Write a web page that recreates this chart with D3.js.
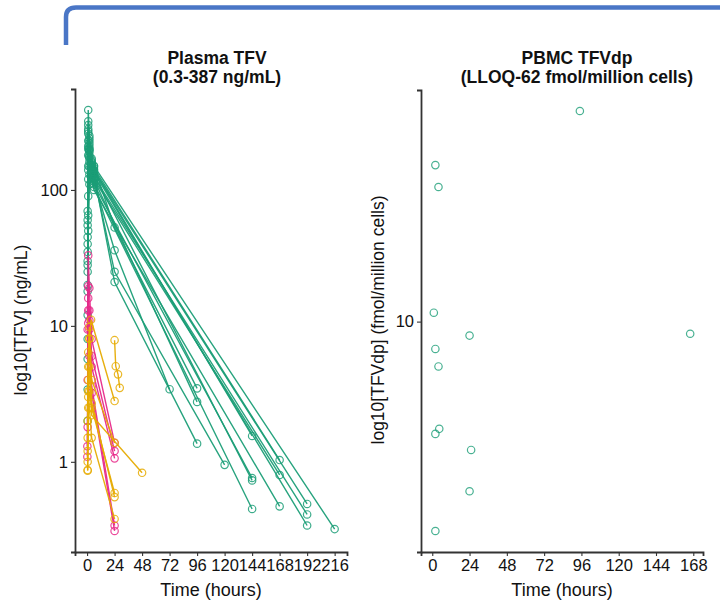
<!DOCTYPE html>
<html>
<head>
<meta charset="utf-8">
<script src="https://cdn.jsdelivr.net/npm/d3@7/dist/d3.min.js"></script>
<style>
  html, body { margin: 0; padding: 0; background: #fff; }
  svg { display: block; }
  text { font-family: "Liberation Sans", Arial, Helvetica, sans-serif; fill: #111; }
</style>
</head>
<body>
<svg id="chart" width="720" height="605"></svg>
<script>
// ---------------- DATA ----------------
// Plasma TFV: one entry per subject (group, sampling times in hours, concentration ng/mL)
const plasmaGroup = [
  "A","A","A","A","A","A","A","A","A","A","A","A","A","A","A","A",
  "B","B","B","B","B",
  "C","C","C","C","C","C","C"
];
const plasmaTimes = [
  [0.5,1,2,4,6,24,72],
  [0.5,1,2,4,6,24,96],
  [0.5,1,2,4,6,96],
  [0.5,1,2,4,6,24,96],
  [0.5,1,2,4,6,24,120],
  [0.5,1,2,4,6,144],
  [0.5,1,2,4,6,144],
  [0.5,1,2,4,6,144],
  [0.5,1,2,4,6,144],
  [0.5,1,2,4,6,168],
  [0.5,1,2,4,6,168],
  [0.5,1,2,4,6,168],
  [0.5,1,2,4,6,192],
  [0.5,1,2,4,6,192],
  [0.5,1,2,4,6,192],
  [0.5,1,2,4,6,216],
  [0.5,1,2,4,24],
  [0.5,1,2,4,24],
  [0.5,1,2,4,24],
  [0.25,1,2,4,24],
  [0.25,1,2,4,24],
  [0.5,1,2,3.5,24],
  [24,25,27,28.5],
  [0.5,1,2,4,48],
  [0.5,1,2,4,24],
  [0.5,1,2,4,24],
  [0.5,1,2,4,24],
  [0.5,1,2,4,24]
];
const plasmaConc = [
  [25,210,160,130,115,36,3.42],
  [60,387,250,170,150,53,3.47],
  [12,150,200,140,120,2.76],
  [5.7,90,180,150,130,21,1.36],
  [40,280,220,145,125,25,0.95],
  [20,120,240,160,140,1.55],
  [3.4,65,130,135,110,0.76],
  [45,300,190,150,130,0.73],
  [2.0,50,110,125,105,0.45],
  [30,260,210,165,145,1.03],
  [55,230,170,140,120,0.80],
  [18,200,150,120,100,0.47],
  [70,320,230,155,140,0.49],
  [28,180,175,135,125,0.41],
  [8,140,195,150,135,0.34],
  [35,270,200,160,150,0.32],
  [9.4,33,19,8,1.38],
  [1.8,16,13,6,1.2],
  [4,19.6,11,5,1.06],
  [1.09,10.5,6,3.6,0.34],
  [1.3,13,9.4,3.2,0.31],
  [1.5,4,8,11.1,2.8],
  [7.85,5.05,4.4,3.5],
  [1,3,5,2.2,0.83],
  [2,6.4,9.8,4,1.38],
  [0.86,2.5,3.3,2.5,0.59],
  [1.2,5,8.1,2.7,0.55],
  [0.87,3.3,2.5,1.5,0.38]
];
const groupNames  = ["A","B","C"];
const groupColors = ["#1B9E77","#E7298A","#E6AB02"];

// PBMC TFVdp (fmol/million cells)
const pbmcTimes = [95,2,4,1,24,166,2,4,4.5,2,25,24,2];
const pbmcConc  = [62,38.8,32.1,10.8,8.86,9.0,7.89,6.78,3.95,3.78,3.29,2.30,1.63];

// Axis ticks
const plasmaXTicks = [0,24,48,72,96,120,144,168,192,216];
const plasmaYTicks = [1,10,100];
const pbmcXTicks   = [0,24,48,72,96,120,144,168];
const pbmcYTicks   = [10];

// Titles
const plasmaTitle = ["Plasma TFV","(0.3-387 ng/mL)"];
const pbmcTitle   = ["PBMC TFVdp","(LLOQ-62 fmol/million cells)"];
const plasmaYLabel = "log10[TFV] (ng/mL)";
const pbmcYLabel   = "log10[TFVdp] (fmol/million cells)";
const xLabel = "Time (hours)";

// ---------------- DRAW ----------------
const svg = d3.select("#chart");
const color = d3.scaleOrdinal().domain(groupNames).range(groupColors);

// blue bracket at top
svg.append("path")
  .attr("d", "M66,45 L66,17 Q66,7.5 76,7.5 L722,7.5")
  .attr("fill", "none")
  .attr("stroke", "#4A76C6")
  .attr("stroke-width", 4.5);

function logExpand(vals, f) {
  const lo = Math.log10(d3.min(vals)), hi = Math.log10(d3.max(vals));
  const e = (hi - lo) * f;
  return [Math.pow(10, lo - e), Math.pow(10, hi + e)];
}
function linExpand(vals, f) {
  const lo = d3.min(vals), hi = d3.max(vals);
  const e = (hi - lo) * f;
  return [lo - e, hi + e];
}

function styleAxis(g) {
  g.selectAll(".domain").attr("stroke", "#333").attr("stroke-width", 1.8);
  g.selectAll(".tick line").attr("stroke", "#333").attr("stroke-width", 1.1);
  g.selectAll(".tick text").attr("font-size", 16.5).attr("fill", "#111")
    .style("font-family", "'Liberation Sans', Arial, sans-serif");
}

// ---- Left panel ----
const L = {x0: 75, x1: 347, y0: 89, y1: 552};
const allT = plasmaTimes.flat(), allC = plasmaConc.flat();
const xL = d3.scaleLinear().domain(linExpand(allT, 0.05)).range([L.x0, L.x1]);
const yL = d3.scaleLog().domain(logExpand(allC, 0.05)).range([L.y1, L.y0]);

const subjects = plasmaGroup.map((g, i) => ({
  group: g,
  pts: plasmaTimes[i].map((t, j) => ({t: t, c: plasmaConc[i][j]}))
}));
const line = d3.line().x(d => xL(d.t)).y(d => yL(d.c));

const plotL = svg.append("g");
groupNames.forEach(gn => {
  const subs = subjects.filter(s => s.group === gn);
  const gg = plotL.append("g");
  gg.selectAll("path.ln").data(subs).join("path")
    .attr("class", "ln")
    .attr("d", s => line(s.pts))
    .attr("fill", "none")
    .attr("stroke", color(gn))
    .attr("stroke-width", 1.4)
    .attr("stroke-opacity", 0.95);
  gg.selectAll("circle").data(subs.flatMap(s => s.pts)).join("circle")
    .attr("cx", d => xL(d.t))
    .attr("cy", d => yL(d.c))
    .attr("r", 3.7)
    .attr("fill", "none")
    .attr("stroke", color(gn))
    .attr("stroke-width", 1.2)
    .attr("stroke-opacity", 0.85);
});

const axLx = svg.append("g").attr("transform", `translate(0,${L.y1})`)
  .call(d3.axisBottom(xL).tickValues(plasmaXTicks).tickSize(4).tickPadding(3).tickFormat(d3.format("d")));
styleAxis(axLx);
const axLy = svg.append("g").attr("transform", `translate(${L.x0},0)`)
  .call(d3.axisLeft(yL).tickValues(plasmaYTicks).tickSize(4).tickPadding(3).tickFormat(d3.format("d")));
styleAxis(axLy);

svg.append("text").attr("x", 211).attr("y", 596).attr("text-anchor", "middle")
  .attr("font-size", 18).text(xLabel);
svg.append("text").attr("transform", `translate(27,320) rotate(-90)`)
  .attr("text-anchor", "middle").attr("font-size", 17.5).text(plasmaYLabel);
svg.append("text").attr("x", 217).attr("y", 64).attr("text-anchor", "middle")
  .attr("font-size", 17.5).attr("font-weight", "bold").text(plasmaTitle[0]);
svg.append("text").attr("x", 217).attr("y", 83).attr("text-anchor", "middle")
  .attr("font-size", 17.5).attr("font-weight", "bold").text(plasmaTitle[1]);

// ---- Right panel ----
const R = {x0: 421, x1: 703, y0: 90, y1: 552};
const xR = d3.scaleLinear().domain(linExpand(pbmcTimes, 0.05)).range([R.x0, R.x1]);
const yR = d3.scaleLog().domain(logExpand(pbmcConc, 0.05)).range([R.y1, R.y0]);

svg.append("g").selectAll("circle").data(pbmcTimes.map((t, i) => ({t: t, c: pbmcConc[i]})))
  .join("circle")
  .attr("cx", d => xR(d.t))
  .attr("cy", d => yR(d.c))
  .attr("r", 3.7)
  .attr("fill", "none")
  .attr("stroke", groupColors[0])
  .attr("stroke-width", 1.2)
  .attr("stroke-opacity", 0.8);

const axRx = svg.append("g").attr("transform", `translate(0,${R.y1})`)
  .call(d3.axisBottom(xR).tickValues(pbmcXTicks).tickSize(4).tickPadding(3).tickFormat(d3.format("d")));
styleAxis(axRx);
const axRy = svg.append("g").attr("transform", `translate(${R.x0},0)`)
  .call(d3.axisLeft(yR).tickValues(pbmcYTicks).tickSize(4).tickPadding(3).tickFormat(d3.format("d")));
styleAxis(axRy);

svg.append("text").attr("x", 562).attr("y", 596).attr("text-anchor", "middle")
  .attr("font-size", 18).text(xLabel);
svg.append("text").attr("transform", `translate(384,320) rotate(-90)`)
  .attr("text-anchor", "middle").attr("font-size", 17.5).text(pbmcYLabel);
svg.append("text").attr("x", 577).attr("y", 64).attr("text-anchor", "middle")
  .attr("font-size", 17.5).attr("font-weight", "bold").text(pbmcTitle[0]);
svg.append("text").attr("x", 577).attr("y", 83).attr("text-anchor", "middle")
  .attr("font-size", 17.5).attr("font-weight", "bold").text(pbmcTitle[1]);
</script>
</body>
</html>
